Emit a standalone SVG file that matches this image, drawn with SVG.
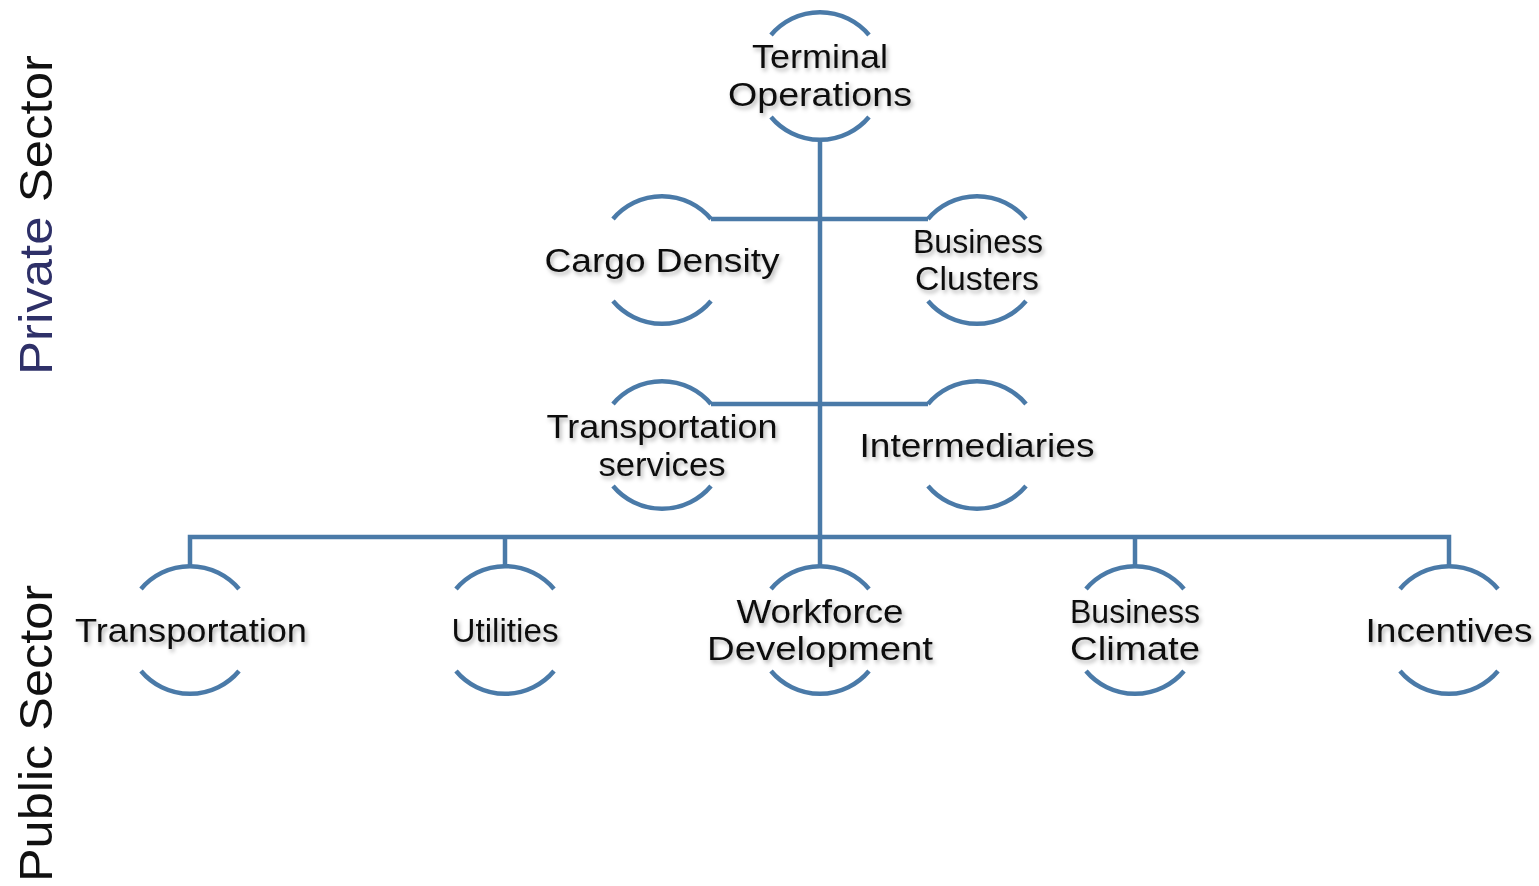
<svg xmlns="http://www.w3.org/2000/svg" width="1539" height="886" viewBox="0 0 1539 886">
  <defs>
    <filter id="shadow" x="-10%" y="-30%" width="120%" height="170%">
      <feGaussianBlur in="SourceAlpha" stdDeviation="2"/>
      <feOffset dx="2" dy="3" result="blur"/>
      <feFlood flood-color="#000" flood-opacity="0.3"/>
      <feComposite in2="blur" operator="in" result="sh"/>
      <feMerge>
        <feMergeNode in="sh"/>
        <feMergeNode in="SourceGraphic"/>
      </feMerge>
    </filter>
  </defs>
  <style>
    .arc { fill: none; stroke: #4a7aa8; stroke-width: 4.5; }
    .link { fill: none; stroke: #4a7aa8; stroke-width: 4.5; stroke-linejoin: miter; }
    .lbl { font-family: "Liberation Sans", Arial, sans-serif; font-size: 34px; fill: #111; text-anchor: middle; filter: url(#shadow); }
    .side { font-family: "Liberation Sans", Arial, sans-serif; font-size: 47px; fill: #111; }
    .navy { fill: #2e3068; }
  </style>
  <rect width="1539" height="886" fill="#fff"/>

  <!-- side labels -->
  <text class="side" transform="translate(52,375) rotate(-90)" textLength="320" lengthAdjust="spacingAndGlyphs"><tspan class="navy">Private</tspan> Sector</text>
  <text class="side" transform="translate(52,882) rotate(-90)" textLength="297" lengthAdjust="spacingAndGlyphs">Public Sector</text>

  <!-- connectors -->
  <g id="connectors">
    <path class="link" d="M820 140 V566"/>
    <path class="link" d="M711 219 H928"/>
    <path class="link" d="M711 404 H928"/>
    <path class="link" d="M190 566 V537 H1449 V566"/>
    <path class="link" d="M505 537 V566"/>
    <path class="link" d="M1135 537 V566"/>
  </g>

  <!-- nodes: each is a circle broken at its sides by the label -->
  <g id="terminal-operations">
    <path class="arc" d="M771 35 A64 64 0 0 1 869 35 M771 117 A64 64 0 0 0 869 117"/>
    <text class="lbl" x="820" y="68" textLength="136" lengthAdjust="spacingAndGlyphs">Terminal</text>
    <text class="lbl" x="820" y="106" textLength="184" lengthAdjust="spacingAndGlyphs">Operations</text>
  </g>
  <g id="cargo-density">
    <path class="arc" d="M613 219 A64 64 0 0 1 711 219 M613 301 A64 64 0 0 0 711 301"/>
    <text class="lbl" x="662" y="272" textLength="235" lengthAdjust="spacingAndGlyphs">Cargo Density</text>
  </g>
  <g id="business-clusters">
    <path class="arc" d="M928 219 A64 64 0 0 1 1026 219 M928 301 A64 64 0 0 0 1026 301"/>
    <text class="lbl" x="978" y="253" textLength="130" lengthAdjust="spacingAndGlyphs">Business</text>
    <text class="lbl" x="977" y="290" textLength="124" lengthAdjust="spacingAndGlyphs">Clusters</text>
  </g>
  <g id="transportation-services">
    <path class="arc" d="M613 404 A64 64 0 0 1 711 404 M613 486 A64 64 0 0 0 711 486"/>
    <text class="lbl" x="662" y="438" textLength="231" lengthAdjust="spacingAndGlyphs">Transportation</text>
    <text class="lbl" x="662" y="476" textLength="127" lengthAdjust="spacingAndGlyphs">services</text>
  </g>
  <g id="intermediaries">
    <path class="arc" d="M928 404 A64 64 0 0 1 1026 404 M928 486 A64 64 0 0 0 1026 486"/>
    <text class="lbl" x="977" y="457" textLength="235" lengthAdjust="spacingAndGlyphs">Intermediaries</text>
  </g>
  <g id="transportation">
    <path class="arc" d="M141 589 A64 64 0 0 1 239 589 M141 671 A64 64 0 0 0 239 671"/>
    <text class="lbl" x="191" y="642" textLength="232" lengthAdjust="spacingAndGlyphs">Transportation</text>
  </g>
  <g id="utilities">
    <path class="arc" d="M456 589 A64 64 0 0 1 554 589 M456 671 A64 64 0 0 0 554 671"/>
    <text class="lbl" x="505" y="642" textLength="107" lengthAdjust="spacingAndGlyphs">Utilities</text>
  </g>
  <g id="workforce-development">
    <path class="arc" d="M771 589 A64 64 0 0 1 869 589 M771 671 A64 64 0 0 0 869 671"/>
    <text class="lbl" x="820" y="623" textLength="167" lengthAdjust="spacingAndGlyphs">Workforce</text>
    <text class="lbl" x="820" y="660" textLength="226" lengthAdjust="spacingAndGlyphs">Development</text>
  </g>
  <g id="business-climate">
    <path class="arc" d="M1086 589 A64 64 0 0 1 1184 589 M1086 671 A64 64 0 0 0 1184 671"/>
    <text class="lbl" x="1135" y="623" textLength="130" lengthAdjust="spacingAndGlyphs">Business</text>
    <text class="lbl" x="1135" y="660" textLength="130" lengthAdjust="spacingAndGlyphs">Climate</text>
  </g>
  <g id="incentives">
    <path class="arc" d="M1400 589 A64 64 0 0 1 1498 589 M1400 671 A64 64 0 0 0 1498 671"/>
    <text class="lbl" x="1449" y="642" textLength="167" lengthAdjust="spacingAndGlyphs">Incentives</text>
  </g>
</svg>
